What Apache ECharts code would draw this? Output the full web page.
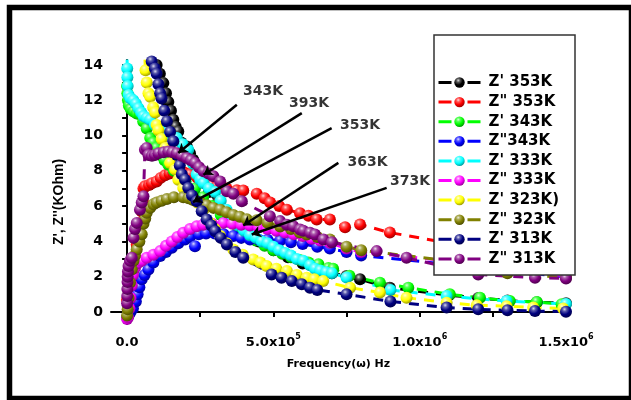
<!DOCTYPE html>
<html><head><meta charset="utf-8">
<script src="https://cdn.jsdelivr.net/npm/echarts@6/dist/echarts.min.js"></script>
<style>html,body{margin:0;padding:0;background:#fff}#c{width:631px;height:400px}</style>
</head><body><div id="c"></div>
<script>
// frequency in kHz, impedance in KOhm : [f, Z]
const zp353 = [[101,14.0],[112,13.5],[124,12.97],[133,12.4],[141,11.9],[150,11.4],[158,10.9],[166,10.5],[175,10.23],[185,9.6],[204,9.38],[215,9.0],[226,8.63],[250,7.6],[280,6.8],[310,6.2],[350,5.4],[400,4.6],[450,4.0],[500,3.5],[550,3.1],[600,2.75],[650,2.45],[700,2.2],[750,2.04],[796,1.85],[898,1.38],[1100,0.95],[1200,0.8],[1300,0.65],[1400,0.55],[1500,0.5]];
const zpp353 = [[0,0.7],[3,0.9],[8,1.3],[14,1.8],[20,2.3],[27,3.1],[33,3.83],[38,4.4],[44,5.05],[50,5.7],[54,6.27],[56,7.0],[61,7.12],[75,7.2],[85,7.3],[101,7.4],[115,7.6],[130,7.75],[145,7.85],[158,7.9],[175,7.95],[195,7.9],[215,7.8],[240,7.6],[265,7.4],[290,7.2],[306,7.12],[340,7.0],[375,6.9],[397,6.88],[443,6.7],[470,6.45],[489,6.2],[520,6.0],[546,5.8],[591,5.6],[620,5.45],[648,5.24],[693,5.24],[745,4.8],[796,4.96],[898,4.5],[1100,3.9],[1200,3.7],[1300,3.5],[1400,3.3],[1500,3.2]];
const zp343 = [[0,12.8],[1,12.4],[3,12.0],[6,11.7],[12,11.5],[22,11.36],[33,11.25],[44,11.2],[55,10.8],[67,10.4],[79,9.86],[89,9.6],[100,9.3],[115,8.9],[128,8.6],[141,8.35],[160,8.0],[180,7.7],[200,7.4],[232,7.0],[260,6.5],[290,6.0],[320,5.5],[350,5.1],[380,4.7],[410,4.35],[440,4.05],[470,3.75],[500,3.5],[530,3.3],[560,3.1],[590,2.95],[620,2.8],[654,2.7],[688,2.5],[704,2.45],[760,2.05],[864,1.66],[961,1.38],[1103,1.0],[1206,0.81],[1308,0.62],[1400,0.57],[1485,0.44]];
const zpp343 = [[0,-0.3],[5,-0.2],[12,0.0],[20,0.2],[30,0.6],[36,1.0],[42,1.4],[50,1.85],[60,2.1],[73,2.41],[90,2.8],[113,3.17],[133,3.4],[153,3.64],[175,3.9],[198,4.11],[215,4.25],[232,3.73],[245,4.4],[270,4.45],[300,4.45],[330,4.4],[363,4.3],[390,4.2],[420,4.11],[450,4.1],[480,4.1],[523,4.05],[560,3.95],[600,3.85],[650,3.7],[693,3.6],[750,3.4],[800,3.2],[1100,2.7],[1300,2.3],[1500,2.0]];
const zp333 = [[0,14.3],[0.5,13.8],[1,13.3],[2,12.8],[5,12.3],[12,12.1],[21,12.0],[30,11.8],[39,11.55],[48,11.3],[56,11.1],[67,11.0],[79,10.9],[95,10.6],[110,10.35],[125,10.15],[140,10.0],[155,9.95],[170,9.86],[190,9.5],[209,9.2],[225,8.4],[238,7.8],[250,7.5],[261,7.3],[280,7.0],[301,6.8],[320,6.3],[340,5.8],[360,5.3],[380,4.9],[400,4.6],[420,4.35],[440,4.2],[460,4.0],[480,3.9],[500,3.7],[520,3.5],[540,3.35],[560,3.2],[580,3.0],[602,2.9],[625,2.65],[642,2.45],[660,2.35],[680,2.25],[700,2.2],[750,1.95],[900,1.25],[1092,0.9],[1297,0.62],[1500,0.45]];
const zpp333 = [[0,-0.4],[3,-0.3],[8,0.2],[12,0.8],[16,1.5],[20,2.1],[27,2.5],[33,2.75],[39,2.8],[50,2.9],[67,3.07],[90,3.25],[113,3.45],[133,3.75],[153,4.0],[172,4.25],[192,4.49],[215,4.7],[238,4.86],[260,4.95],[290,5.0],[329,5.05],[360,5.0],[390,4.95],[420,4.9],[450,4.8],[480,4.7],[510,4.6],[540,4.5],[570,4.4],[600,4.3],[630,4.15],[660,4.05],[693,3.92],[750,3.6],[800,3.4],[1100,2.9],[1300,2.4],[1500,2.05]];
const zp323 = [[61,14.3],[63,13.7],[67,13.0],[73,12.4],[79,12.2],[89,11.6],[96,11.3],[101,10.6],[107,10.3],[118,9.8],[130,9.3],[147,8.45],[164,8.07],[175,7.5],[192,7.03],[221,6.56],[240,6.2],[261,5.8],[284,5.05],[300,4.7],[318,4.3],[340,3.9],[363,3.54],[395,3.25],[431,2.98],[455,2.8],[477,2.6],[510,2.45],[546,2.32],[580,2.1],[614,1.94],[640,1.85],[670,1.75],[762,1.38],[864,1.1],[955,0.81],[1092,0.53],[1195,0.38],[1297,0.33],[1388,0.25],[1490,0.2]];
const zpp323 = [[0,-0.2],[2,0.15],[5,0.8],[10,1.66],[16,2.41],[22,2.9],[27,3.2],[33,3.54],[42,4.0],[50,4.4],[56,5.0],[62,5.3],[67,5.62],[79,5.9],[90,6.1],[101,6.2],[118,6.3],[136,6.4],[160,6.5],[192,6.5],[210,6.45],[226,6.35],[250,6.2],[272,6.05],[295,5.9],[318,5.8],[340,5.65],[363,5.5],[385,5.4],[409,5.25],[443,5.2],[480,5.05],[523,4.85],[560,4.7],[590,4.5],[614,4.39],[650,4.25],[693,4.11],[750,3.7],[800,3.5],[1100,2.9],[1200,2.3],[1300,2.2],[1500,1.95]];
const zp313 = [[84,14.2],[95,13.8],[101,13.5],[107,12.9],[113,12.4],[118,12.1],[127,11.4],[136,10.8],[147,10.2],[158,9.67],[170,8.9],[180,8.3],[187,7.8],[198,7.5],[209,7.03],[222,6.6],[238,6.27],[255,5.71],[272,5.24],[288,4.9],[301,4.58],[320,4.2],[341,3.83],[370,3.4],[397,3.07],[494,2.13],[528,1.94],[563,1.75],[597,1.57],[625,1.38],[650,1.25],[750,1.0],[900,0.6],[1092,0.25],[1200,0.15],[1300,0.1],[1394,0.06],[1500,0.02]];
const zpp313 = [[0,0.5],[0.5,0.9],[1,1.3],[1.5,1.7],[2,2.0],[3,2.3],[5,2.6],[10,2.9],[16,3.07],[22,4.2],[27,4.7],[33,5.05],[44,5.8],[50,6.2],[56,6.56],[61,9.2],[67,9.3],[73,8.9],[85,8.85],[95,8.9],[107,9.0],[125,9.05],[141,9.1],[155,9.05],[170,9.0],[187,8.85],[204,8.73],[218,8.6],[232,8.45],[246,8.2],[261,7.97],[278,7.85],[295,7.69],[318,7.4],[341,6.84],[363,6.7],[392,6.27],[488,5.43],[523,5.15],[546,4.95],[568,4.86],[591,4.67],[602,4.6],[625,4.49],[642,4.39],[671,4.11],[700,3.95],[853,3.45],[955,3.07],[1200,2.13],[1394,1.94],[1500,1.9]];

const seriesNames = ["Z' 353K", 'Z" 353K', "Z' 343K", 'Z"343K', "Z' 333K", 'Z" 333K', "Z' 323K)", 'Z" 323K', "Z' 313K", 'Z" 313K'];
const seriesData = [zp353, zpp353, zp343, zpp343, zp333, zpp333, zp323, zpp323, zp313, zpp313];
const seriesColors = ['#000000','#ff0000','#00ff00','#0000ff','#00ffff','#ff00ff','#ffff00','#808000','#000080','#800080'];

const yTickValues = [0,1,2,3,4,5,6,7,8,9,10,11,12,13,14];
const yLabelValues = [0,2,4,6,8,10,12,14];
const xTickValues = [0,250,500,750,1000,1250,1500];
const xLabelValues = [0,500,1000,1500];
const xLabelTexts = ['0.0','5.0x10^5','1.0x10^6','1.5x10^6'];

const tempLabels = ['343K','393K','353K','363K','373K'];
const labelAt = [[465,12.49],[622,11.8],[796,10.55],[822,8.49],[967,7.4]];
const arrowFrom = [[375,11.74],[597,11.27],[699,10.42],[722,8.45],[887,7.03]];
const arrowTo = [[175,9.01],[261,7.78],[225,6.23],[397,4.9],[426,4.39]];

function mix(hex, t, target) {
  const n = parseInt(hex.slice(1), 16);
  const r = (n >> 16) & 255, g = (n >> 8) & 255, b = n & 255;
  const f = c => Math.round(c + (target - c) * t);
  return 'rgb(' + f(r) + ',' + f(g) + ',' + f(b) + ')';
}
function ball(c) {
  return { type: 'radial', x: 0.38, y: 0.3, r: 0.72, colorStops: [
    { offset: 0, color: mix(c, 0.85, 255) },
    { offset: 0.25, color: mix(c, 0.35, 255) },
    { offset: 0.6, color: c },
    { offset: 1, color: mix(c, 0.4, 0) }
  ]};
}

const BOLD = { fontFamily: 'DejaVu Sans', fontWeight: 'bold', color: '#000' };

const series = seriesData.map((d, i) => ({
  type: 'line', name: seriesNames[i], data: d, z: 2,
  symbol: 'circle', symbolSize: 12, clip: true,
  lineStyle: { color: seriesColors[i], width: 3, type: [10, 8] },
  itemStyle: { color: ball(seriesColors[i]), borderWidth: 0 },
  emphasis: { disabled: true }
}));

series.push({
  type: 'lines', coordinateSystem: 'cartesian2d', z: 5, silent: true,
  symbol: ['none', 'arrow'], symbolSize: 9,
  lineStyle: { color: '#000', width: 2.5, opacity: 1 },
  data: arrowFrom.map((p, i) => ({ coords: [p, arrowTo[i]] }))
});
series.push({
  type: 'scatter', z: 5, silent: true, symbolSize: 0,
  data: labelAt.map((p, i) => ({ value: p, name: tempLabels[i] })),
  label: { show: true, position: 'inside', formatter: p => p.name, ...BOLD, fontSize: 14 }
});

const chart = echarts.init(document.getElementById('c'), null, { renderer: 'canvas' });
chart.setOption({
  animation: false,
  backgroundColor: '#fff',
  grid: { left: 111, right: 65, top: 60, bottom: 76, outerBoundsMode: 'none' },
  xAxis: {
    type: 'value', min: -55, max: 1500,
    name: 'Frequency(ω) Hz', nameLocation: 'middle', nameGap: 35,
    nameTextStyle: { ...BOLD, fontSize: 11 },
    axisLine: { lineStyle: { color: '#000', width: 2 } },
    axisTick: { show: true, inside: false, length: 5, lineStyle: { color: '#000', width: 2 }, customValues: xTickValues },
    splitLine: { show: false },
    axisLabel: {
      margin: 9, customValues: xLabelValues,
      formatter: v => {
        const t = xLabelTexts[xLabelValues.indexOf(v)] || '';
        const parts = t.split('^');
        return parts.length > 1 ? '{b|' + parts[0] + '}{s|' + parts[1] + '}' : '{b|' + t + '}';
      },
      rich: {
        b: { ...BOLD, fontSize: 13, lineHeight: 16, verticalAlign: 'bottom' },
        s: { ...BOLD, fontSize: 8, lineHeight: 10, verticalAlign: 'top' }
      }
    }
  },
  yAxis: {
    type: 'value', min: -0.68, max: 14.28,
    name: "Z', Z''(KOhm)", nameLocation: 'middle', nameGap: 45, nameRotate: 90,
    nameTextStyle: { fontFamily: 'Liberation Sans', fontWeight: 'bold', color: '#000', fontSize: 14, padding: [0, 20, 0, 0] },
    axisLine: { show: true, lineStyle: { color: '#000', width: 2 } },
    axisTick: { show: true, inside: false, length: 5, lineStyle: { color: '#000', width: 2 }, customValues: yTickValues },
    splitLine: { show: false },
    axisLabel: { margin: 8, customValues: yLabelValues, ...BOLD, fontSize: 14 }
  },
  legend: {
    data: seriesNames, orient: 'vertical', left: 437, top: 75, padding: 0,
    itemWidth: 42, itemHeight: 13, itemGap: 4.6, selectedMode: false, z: 4,
    lineStyle: { type: [13, 16], width: 3 },
    textStyle: { ...BOLD, fontSize: 15, lineHeight: 13, padding: [0, 0, 0, 3] }
  },
  graphic: [
    { type: 'rect', z: 3, silent: true, shape: { x: 434, y: 35, width: 141, height: 240 },
      style: { fill: '#fff', stroke: '#333', lineWidth: 1.5 } },
    { type: 'rect', z: 10, silent: true, shape: { x: 9.5, y: 7.5, width: 622, height: 391 },
      style: { fill: null, stroke: '#000', lineWidth: 5.5 } }
  ],
  series: series
});
</script>
</body></html>
